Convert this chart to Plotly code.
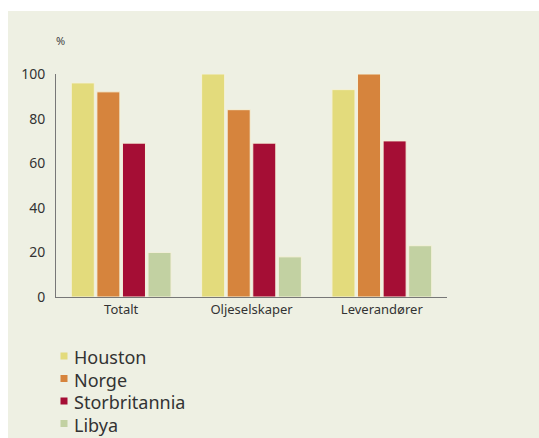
import plotly.graph_objects as go

categories = ["Totalt", "Oljeselskaper", "Leverandører"]
series_names = ["Houston", "Norge", "Storbritannia", "Libya"]
houston = [96, 100, 93]
norge = [92, 84, 100]
storbritannia = [69, 69, 70]
libya = [20, 18, 23]
y_ticks = [0, 20, 40, 60, 80, 100]

colors = ["#E3DB7C", "#D6843D", "#A50E35", "#C2D1A2"]
values = [houston, norge, storbritannia, libya]

W, H = 539, 438
L, R, T, B = 56, 92, 74, 141
pw, ph = W - L - R, H - T - B

fig = go.Figure()
for name, vals, col in zip(series_names, values, colors):
    fig.add_trace(go.Bar(
        x=categories, y=vals, name=name,
        marker=dict(color=col, line=dict(color="#F4F1DA", width=1)),
    ))

def px_x(p):
    return (p - L) / pw

def px_y(p):
    return (H - B - p) / ph

fig.add_shape(type="rect", xref="paper", yref="paper",
              x0=px_x(8), x1=px_x(W + 2), y0=px_y(H + 2), y1=px_y(11),
              fillcolor="#EEF0E3", line=dict(width=0), layer="below")

fig.add_annotation(text="%", xref="paper", yref="paper",
                   x=px_x(54), y=px_y(40), xanchor="left", yanchor="middle",
                   showarrow=False, font=dict(size=11, color="#444"))

# Manual legend (series names and colours from the data lists)
row0, step = 356, 22.5
for i, (name, col) in enumerate(zip(series_names, colors)):
    cy = row0 + i * step
    fig.add_shape(type="rect", xref="paper", yref="paper",
                  x0=px_x(60.5), x1=px_x(67.5), y0=px_y(cy + 3.5), y1=px_y(cy - 3.5),
                  fillcolor=col, line=dict(width=0))
    fig.add_annotation(text=name, xref="paper", yref="paper",
                       x=px_x(72), y=px_y(cy + 1), xanchor="left", yanchor="middle",
                       showarrow=False, font=dict(size=18, color="#333"))

fig.update_layout(
    width=W, height=H,
    margin=dict(l=L, r=R, t=T, b=B, autoexpand=False),
    paper_bgcolor="white", plot_bgcolor="rgba(0,0,0,0)",
    barmode="group", bargap=0.215, bargroupgap=0.1,
    font=dict(family="Noto Sans", color="#333"),
    showlegend=False,
    xaxis=dict(showline=True, linecolor="#777", linewidth=1, ticks="",
               tickfont=dict(size=13, color="#333"), showgrid=False,
               range=[-0.5, 2.5]),
    yaxis=dict(range=[0, 100], tickvals=y_ticks, showline=True, linecolor="#777",
               linewidth=1, ticks="", showgrid=False, zeroline=False,
               tickfont=dict(size=14, color="#333"), ticklabelstandoff=7),
)

fig.write_html("out.html")
